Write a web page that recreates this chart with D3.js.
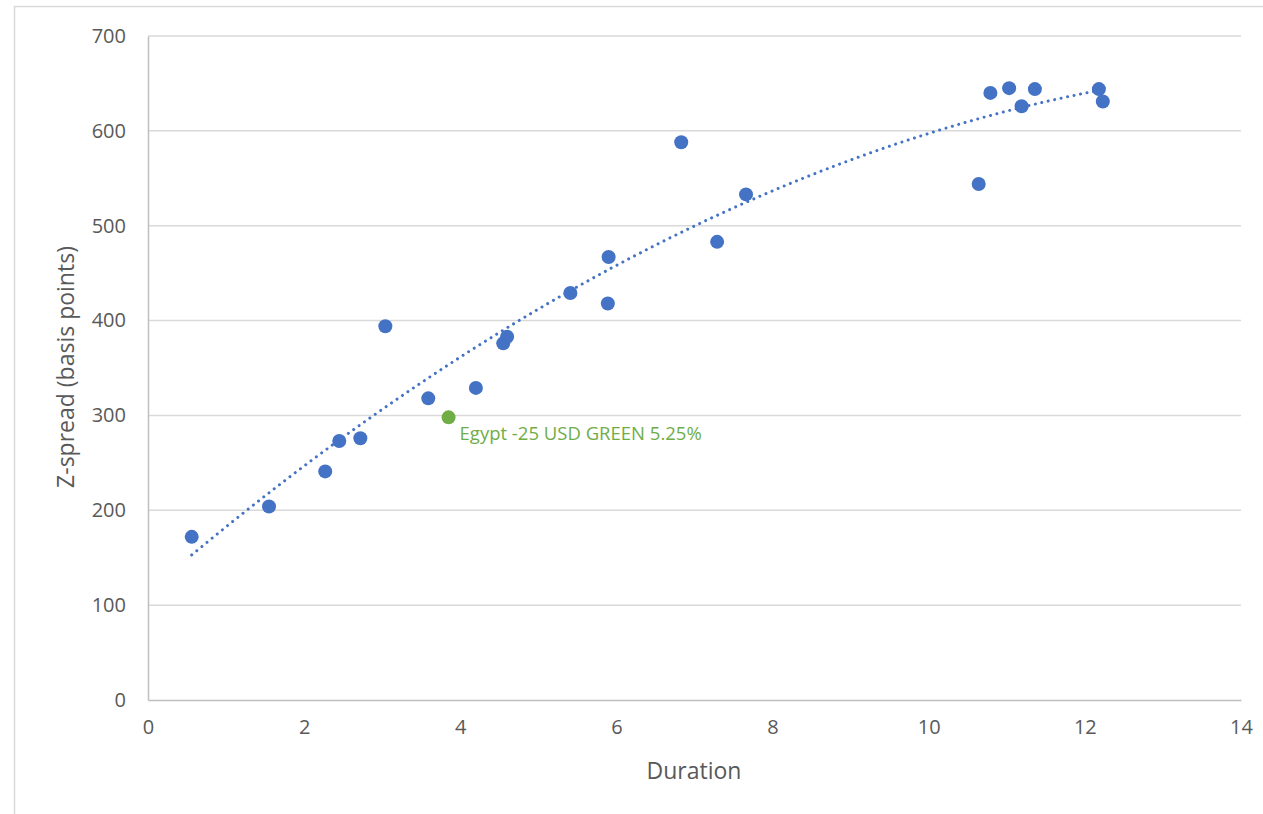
<!DOCTYPE html>
<html>
<head>
<meta charset="utf-8">
<script src="https://cdn.jsdelivr.net/npm/d3@7"></script>
<style>
  html, body { margin: 0; padding: 0; background: #fff; }
  svg { display: block; }
  text { font-family: "Open Sans", "Noto Sans", sans-serif; }
</style>
</head>
<body>
<svg id="chart" width="1263" height="814"></svg>
<script>
// ---- data ----
const durations = [0.56, 1.55, 2.27, 2.45, 2.72, 3.04, 3.59, 4.20, 4.55, 4.60, 5.41, 5.90, 5.89, 6.83, 7.29, 7.66, 10.64, 10.79, 11.03, 11.19, 11.36, 12.18, 12.23];
const zspreads  = [172, 204, 241, 273, 276, 394, 318, 329, 376, 383, 429, 467, 418, 588, 483, 533, 544, 640, 645, 626, 644, 644, 631];
const highlightDuration = [3.85];
const highlightSpread = [298];
const highlightLabel = ["Egypt -25 USD GREEN 5.25%"];
const xTicks = [0, 2, 4, 6, 8, 10, 12, 14];
const yTicks = [0, 100, 200, 300, 400, 500, 600, 700];
const xTitle = "Duration";
const yTitle = "Z-spread (basis points)";

// ---- layout ----
const svg = d3.select("#chart");
const mLeft = 148, mRight = 1241, mTop = 36, mBottom = 700;
const x = d3.scaleLinear().domain([0, 14]).range([mLeft, mRight]);
const y = d3.scaleLinear().domain([0, 700]).range([mBottom, mTop]);

const blue = "#4472C4", green = "#70AD47", tickColor = "#595959";

// outer chart border
svg.append("rect").attr("x", 14.5).attr("y", 6.5).attr("width", 1270).attr("height", 830)
  .attr("fill", "none").attr("stroke", "#d9d9d9").attr("stroke-width", 1.5);

// gridlines
svg.append("g").selectAll("line").data(yTicks.filter(d => d > 0)).join("line")
  .attr("x1", mLeft).attr("x2", mRight)
  .attr("y1", d => y(d)).attr("y2", d => y(d))
  .attr("stroke", "#d9d9d9").attr("stroke-width", 1.5);

// axes
const yAxis = d3.axisLeft(y).tickValues(yTicks).tickSize(0).tickPadding(22);
const gy = svg.append("g").attr("transform", `translate(${mLeft},0)`).call(yAxis);
gy.select(".domain").attr("stroke", "#bfbfbf").attr("stroke-width", 1.5);
gy.selectAll("text").attr("fill", tickColor).attr("font-size", 20);

const xAxis = d3.axisBottom(x).tickValues(xTicks).tickSize(0).tickPadding(20);
const gx = svg.append("g").attr("transform", `translate(0,${mBottom})`).call(xAxis);
gx.select(".domain").attr("stroke", "#bfbfbf").attr("stroke-width", 1.5);
gx.selectAll("text").attr("fill", tickColor).attr("font-size", 20);

// axis titles
svg.append("text").attr("x", 694).attr("y", 779)
  .attr("text-anchor", "middle").attr("fill", tickColor).attr("font-size", 23).text(xTitle);
svg.append("text").attr("transform", `translate(74,367) rotate(-90)`)
  .attr("text-anchor", "middle").attr("fill", tickColor).attr("font-size", 23).text(yTitle);

// polynomial (order 2) trendline fit on the blue series
function polyFit2(xs, ys) {
  const n = xs.length;
  let s = [0,0,0,0,0], t = [0,0,0];
  for (let i = 0; i < n; i++) {
    const xi = xs[i], yi = ys[i];
    for (let k = 0; k < 5; k++) s[k] += Math.pow(xi, k);
    for (let k = 0; k < 3; k++) t[k] += yi * Math.pow(xi, k);
  }
  const A = [[s[0], s[1], s[2], t[0]], [s[1], s[2], s[3], t[1]], [s[2], s[3], s[4], t[2]]];
  for (let i = 0; i < 3; i++) {
    let p = i;
    for (let r = i + 1; r < 3; r++) if (Math.abs(A[r][i]) > Math.abs(A[p][i])) p = r;
    [A[i], A[p]] = [A[p], A[i]];
    for (let r = 0; r < 3; r++) {
      if (r === i) continue;
      const f = A[r][i] / A[i][i];
      for (let c = i; c < 4; c++) A[r][c] -= f * A[i][c];
    }
  }
  return [A[0][3] / A[0][0], A[1][3] / A[1][1], A[2][3] / A[2][2]];
}
const coef = polyFit2(durations, zspreads);
const xmin = d3.min(durations), xmax = d3.max(durations);
const trend = d3.range(0, 101).map(i => {
  const xv = xmin + (xmax - xmin) * i / 100;
  return [xv, coef[0] + coef[1] * xv + coef[2] * xv * xv];
});
svg.append("path").datum(trend)
  .attr("d", d3.line().x(d => x(d[0])).y(d => y(d[1])))
  .attr("fill", "none").attr("stroke", blue).attr("stroke-width", 3)
  .attr("stroke-linecap", "round").attr("stroke-dasharray", "0.01 6.6");

// blue points
svg.append("g").selectAll("circle").data(durations.map((d, i) => [d, zspreads[i]])).join("circle")
  .attr("cx", d => x(d[0])).attr("cy", d => y(d[1])).attr("r", 7)
  .attr("fill", blue);

// highlighted point
const hl = highlightDuration.map((d, i) => ({ x: d, y: highlightSpread[i], label: highlightLabel[i] }));
svg.append("g").selectAll("circle").data(hl).join("circle")
  .attr("cx", d => x(d.x)).attr("cy", d => y(d.y)).attr("r", 7).attr("fill", green);
svg.append("g").selectAll("text").data(hl).join("text")
  .attr("x", d => x(d.x) + 11).attr("y", d => y(d.y) + 23)
  .attr("fill", green).attr("font-size", 18.5).text(d => d.label);
</script>
</body>
</html>
